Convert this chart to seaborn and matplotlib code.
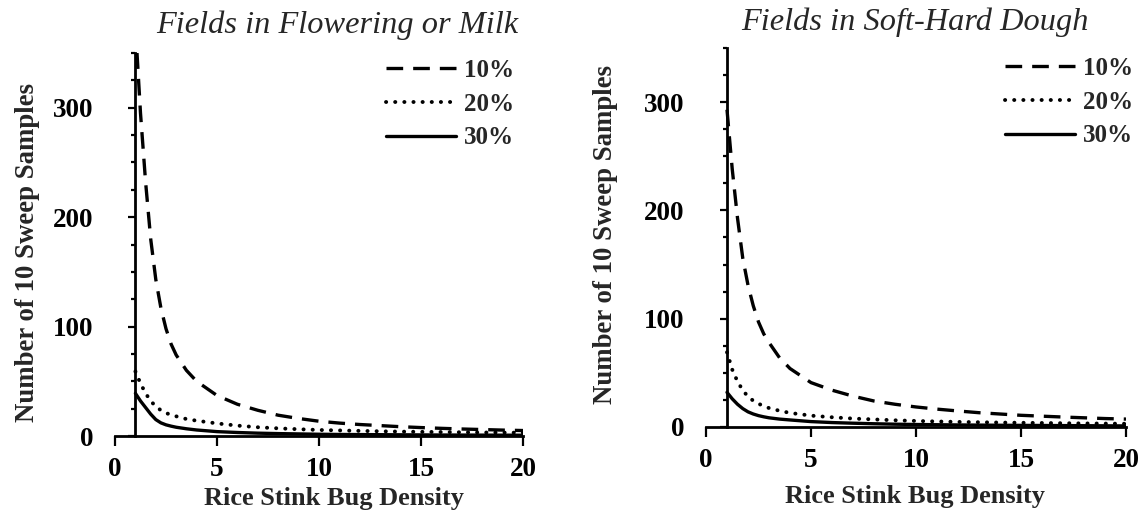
import matplotlib
matplotlib.use("Agg")
import matplotlib.pyplot as plt
from matplotlib.ticker import MultipleLocator
import pandas as pd
import seaborn as sns

# Rice stink bug densities at which sample numbers were evaluated
density = [1, 1.25, 1.5, 1.75, 2, 2.25, 2.5, 2.75, 3, 3.5, 4, 5, 6, 7, 8, 9, 10,
           11, 12, 13, 14, 15, 16, 17, 18, 19, 20]

# Flowering or milk stage: required number of 10-sweep samples per precision level
flower_10 = [375, 295, 232, 180, 143, 117, 98, 84, 74, 60, 50, 37, 29, 23.5, 19, 16, 13.5,
             11.8, 10.5, 9.5, 8.5, 7.7, 7, 6.4, 5.9, 5.4, 5]
flower_20 = [59, 48, 39, 32, 27, 23.5, 21, 19.3, 18, 15.5, 14, 11.5, 9.5, 8, 7, 6.2, 5.5,
             5.1, 4.7, 4.3, 4, 3.8, 3.6, 3.4, 3.2, 3.1, 3]
flower_30 = [39, 32, 26, 20, 15, 12, 10.2, 9, 8, 6.6, 5.5, 4, 3.2, 2.6, 2.2, 1.9, 1.6,
             1.4, 1.3, 1.2, 1.1, 1.0, 0.9, 0.85, 0.8, 0.75, 0.7]

# Soft to hard dough stage
dough_10 = [293, 238, 193, 156, 131, 112, 97, 86, 78, 64, 54, 41, 34, 28.5, 24, 21, 18.5,
            16.5, 14.8, 13.2, 12, 10.8, 10, 9.2, 8.5, 7.8, 7.3]
dough_20 = [69, 53, 42, 34, 28, 24.3, 21.5, 19.3, 17.5, 15, 13, 10.5, 9, 7.8, 7, 6.2, 5.6,
            5.1, 4.7, 4.4, 4.1, 3.9, 3.7, 3.5, 3.3, 3.15, 3]
dough_30 = [32, 26, 21, 17, 14, 12, 10.5, 9.4, 8.5, 7.3, 6.5, 5, 4.1, 3.5, 3, 2.6, 2.3,
            2.1, 1.9, 1.75, 1.6, 1.5, 1.4, 1.3, 1.2, 1.1, 1]

levels = ["10%", "20%", "30%"]
x_ticks = [0, 5, 10, 15, 20]
y_ticks = [0, 100, 200, 300]

sns.set_style("ticks")
plt.rcParams["font.family"] = ["Liberation Serif", "DejaVu Serif"]
plt.rcParams["font.weight"] = "bold"

line_styles = {
    "10%": dict(linestyle=(0, (5, 3)), lw=2.4),
    "20%": dict(linestyle=(0, (0.05, 2.3)), dash_capstyle="round", lw=2.8),
    "30%": dict(linestyle="-", lw=2.4),
}

W, H = 1145, 514
fig = plt.figure(figsize=(W / 100, H / 100), dpi=100)


def px_axes(left, right, top, bottom):
    return fig.add_axes([left / W, 1 - bottom / H, (right - left) / W, (bottom - top) / H])


def draw_panel(ax, series, title, title_xy, xlabel_xy, ylabel_xy, legend_anchor):
    frame = pd.DataFrame({"density": density * 3,
                          "samples": sum(series, []),
                          "level": sum([[lv] * len(density) for lv in levels], [])})
    for lv in levels:
        sub = frame[frame["level"] == lv]
        sns.lineplot(data=sub, x="density", y="samples", ax=ax, color="black",
                     errorbar=None, label=lv, legend=False, **line_styles[lv])

    ax.set_xlim(0, 20)
    ax.set_ylim(0, 350)
    ax.set_xticks(x_ticks)
    ax.set_yticks(y_ticks)
    ax.yaxis.set_minor_locator(MultipleLocator(25))
    ax.spines["left"].set_position(("data", 1))
    ax.spines[["top", "right"]].set_visible(False)
    for s in ("left", "bottom"):
        ax.spines[s].set_linewidth(2.0)
        ax.spines[s].set_color("black")
    ax.tick_params(axis="x", direction="out", length=7, width=1.6, pad=8,
                   labelsize=19.5, colors="black")
    ax.tick_params(axis="y", which="major", direction="out", length=5, width=1.6,
                   pad=25.5, labelsize=19.5, colors="black")
    ax.tick_params(axis="y", which="minor", direction="out", length=3, width=1.6,
                   colors="black")

    ax.set_xlabel("Rice Stink Bug Density", fontsize=19, fontweight="bold")
    ax.set_ylabel("Number of 10 Sweep Samples", fontsize=19.3, fontweight="bold",
                  va="center")
    ax.xaxis.set_label_coords(*xlabel_xy)
    ax.yaxis.set_label_coords(*ylabel_xy)
    ax.xaxis.label.set_va("center")

    ax.set_title(title, fontsize=23.3, fontstyle="italic", fontweight="normal",
                 x=title_xy[0], y=title_xy[1], va="center", pad=0)

    ax.legend(loc="upper right", bbox_to_anchor=legend_anchor,
              bbox_transform=fig.transFigure, frameon=False, fontsize=18,
              handlelength=2.8, handletextpad=0.32, labelspacing=0.43,
              borderpad=0, borderaxespad=0)


# left panel: x 0..20 spans 115..523 px, y 0..350 spans 436..53 px
ax1 = px_axes(115, 523, 53, 436)
draw_panel(ax1, [flower_10, flower_20, flower_30], "Fields in Flowering or Milk",
           title_xy=((337.5 - 115) / 408, (436 - 25) / 383),
           xlabel_xy=((334 - 115) / 408, -(498 - 436) / 383),
           ylabel_xy=((28 - 115) / 408, (436 - 252) / 383),
           legend_anchor=(514 / W, 1 - 59 / H))

# right panel: x 0..20 spans 706..1126 px, y 0..350 spans 427..48 px
ax2 = px_axes(706, 1126, 48, 427)
draw_panel(ax2, [dough_10, dough_20, dough_30], "Fields in Soft-Hard Dough",
           title_xy=((915 - 706) / 420, (427 - 22) / 379),
           xlabel_xy=((915 - 706) / 420, -(497 - 427) / 379),
           ylabel_xy=((606 - 706) / 420, (427 - 235) / 379),
           legend_anchor=(1133 / W, 1 - 57 / H))

fig.savefig("out.png", dpi=100)
